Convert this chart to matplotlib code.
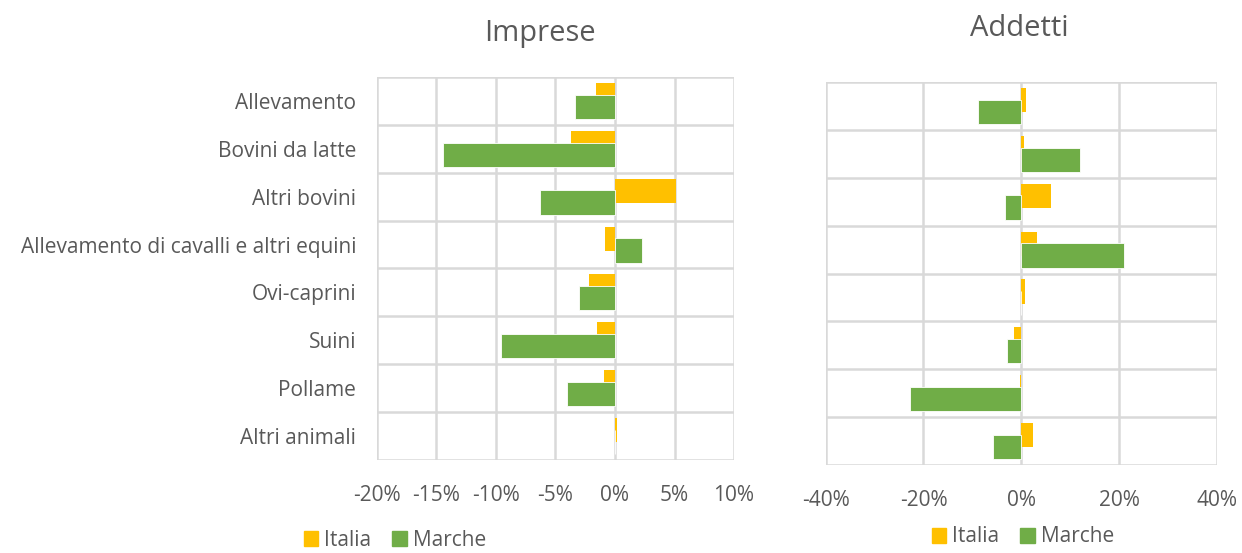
import matplotlib.pyplot as plt
import numpy as np
from matplotlib.ticker import FuncFormatter
from matplotlib.patches import Patch

plt.rcParams['font.family'] = ['Open Sans', 'DejaVu Sans']

categorie = ['Allevamento', 'Bovini da latte', 'Altri bovini',
             'Allevamento di cavalli e altri equini', 'Ovi-caprini',
             'Suini', 'Pollame', 'Altri animali']
# variazioni percentuali
imprese_italia = [-1.6, -3.7, 5.1, -0.8, -2.2, -1.5, -0.9, 0.2]
imprese_marche = [-3.4, -14.45, -6.3, 2.3, -3.05, -9.6, -4.0, 0.0]
addetti_italia = [1.0, 0.5, 6.0, 3.3, 0.8, -1.4, -0.3, 2.3]
addetti_marche = [-8.9, 12.0, -3.4, 20.9, 0.0, -2.9, -22.8, -5.8]

GIALLO = '#FFC000'
VERDE = '#70AD47'
GRIGIO = '#595959'
GRID = '#D9D9D9'

fig = plt.figure(figsize=(12.42, 5.53), dpi=100)
ax1 = fig.add_axes([0.3035, 0.1682, 0.2875, 0.6926])
ax2 = fig.add_axes([0.6648, 0.1591, 0.3150, 0.6926])

y = np.arange(len(categorie))
h = 0.507
off = 0.123

def disegna(ax, it, ma, xmin, xmax, passo):
    ax.barh(y - off, it, height=h, color=GIALLO, zorder=2)
    ax.barh(y + off, ma, height=h, color=VERDE, edgecolor='white', linewidth=0.6, zorder=3)
    ax.set_ylim(len(categorie) - 0.5, -0.5)
    ax.set_xlim(xmin, xmax)
    ax.set_xticks(np.arange(xmin, xmax + 0.1, passo))
    ax.xaxis.set_major_formatter(FuncFormatter(lambda v, p: '%d%%' % round(v)))
    # griglia
    for xv in np.arange(xmin, xmax + 0.1, passo):
        ax.axvline(xv, color=GRID, lw=1.8, zorder=1)
    for yv in np.arange(-0.5, len(categorie), 1):
        ax.axhline(yv, color=GRID, lw=1.8, zorder=1)
    for s in ax.spines.values():
        s.set_visible(False)
    ax.tick_params(axis='both', length=0, colors=GRIGIO, labelsize=15)
    ax.tick_params(axis='x', pad=18)

disegna(ax1, imprese_italia, imprese_marche, -20, 10, 5)
ax1.set_yticks(y)
ax1.set_yticklabels(categorie)
ax1.tick_params(axis='y', pad=15)

disegna(ax2, addetti_italia, addetti_marche, -40, 40, 20)
ax2.set_yticks([])

fig.text(540 / 1242, 1 - 33 / 553, 'Imprese', ha='center', va='center', fontsize=21, color=GRIGIO)
fig.text(1019 / 1242, 1 - 28 / 553, 'Addetti', ha='center', va='center', fontsize=21, color=GRIGIO)

maniglie = [Patch(color=GIALLO, label='Italia'), Patch(color=VERDE, label='Marche')]
leg_style = dict(ncol=2, frameon=False, fontsize=15, labelcolor=GRIGIO,
                 handlelength=0.7, handleheight=0.7, handletextpad=0.3, columnspacing=1.0)
fig.legend(handles=maniglie, loc='center', bbox_to_anchor=(395 / 1242, 1 - 540 / 553), **leg_style)
fig.legend(handles=maniglie, loc='center', bbox_to_anchor=(1023 / 1242, 1 - 537 / 553), **leg_style)

fig.savefig('out.png', dpi=100, facecolor='white')
